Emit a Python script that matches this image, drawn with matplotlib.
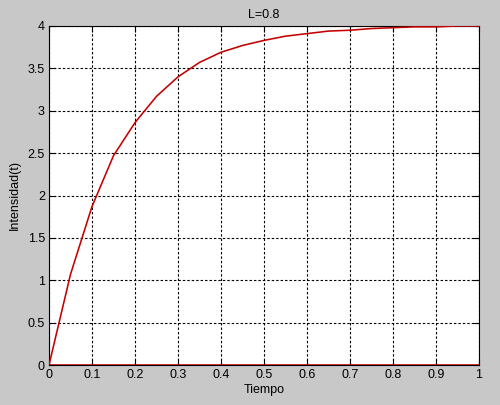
import matplotlib
matplotlib.use("Agg")
import matplotlib.pyplot as plt

# Data
tiempo = [0.00, 0.05, 0.10, 0.15, 0.20, 0.25, 0.30, 0.35, 0.40, 0.45, 0.50,
          0.55, 0.60, 0.65, 0.70, 0.75, 0.80, 0.85, 0.90, 0.95, 1.00]
intensidad = [0.00, 1.07, 1.87, 2.47, 2.86, 3.17, 3.40, 3.57, 3.69, 3.77, 3.83,
              3.88, 3.91, 3.94, 3.95, 3.97, 3.98, 3.99, 3.99, 4.00, 4.00]
base_t = [0.0, 1.0]
base_y = [0.0, 0.0]

x_ticks = [0, 0.1, 0.2, 0.3, 0.4, 0.5, 0.6, 0.7, 0.8, 0.9, 1]
x_labels = ["0", "0.1", "0.2", "0.3", "0.4", "0.5", "0.6", "0.7", "0.8", "0.9", "1"]
y_ticks = [0, 0.5, 1, 1.5, 2, 2.5, 3, 3.5, 4]
y_labels = ["0", "0.5", "1", "1.5", "2", "2.5", "3", "3.5", "4"]

plt.rcParams['font.family'] = ['Liberation Sans', 'DejaVu Sans']

fig = plt.figure(figsize=(5.0, 4.05), dpi=100, facecolor='#c8c8c8')
ax = fig.add_axes([49/500, 1 - 365/405, 430/500, 339/405])
ax.set_facecolor('white')

red = '#c40000'
ax.plot(tiempo, intensidad, color=red, lw=1.15, zorder=3)
ax.plot(base_t, base_y, color=red, lw=1.15, zorder=3)

ax.set_xlim(0, 1)
ax.set_ylim(0, 4)
ax.set_xticks(x_ticks)
ax.set_xticklabels(x_labels)
ax.set_yticks(y_ticks)
ax.set_yticklabels(y_labels)

ax.grid(True, color='black', linestyle=(0, (2.2, 1.8)), linewidth=0.8)
ax.tick_params(direction='in', length=4, width=0.8, labelsize=9, colors='black',
               top=True, right=True, pad=3)
for s in ax.spines.values():
    s.set_linewidth(0.8)
    s.set_color('black')

ax.set_title('L=0.8', fontsize=9, pad=6)
ax.set_xlabel('Tiempo', fontsize=9, labelpad=2)
ax.set_ylabel('Intensidad(t)', fontsize=9, labelpad=5)

fig.savefig('out.png', dpi=100, facecolor=fig.get_facecolor())
